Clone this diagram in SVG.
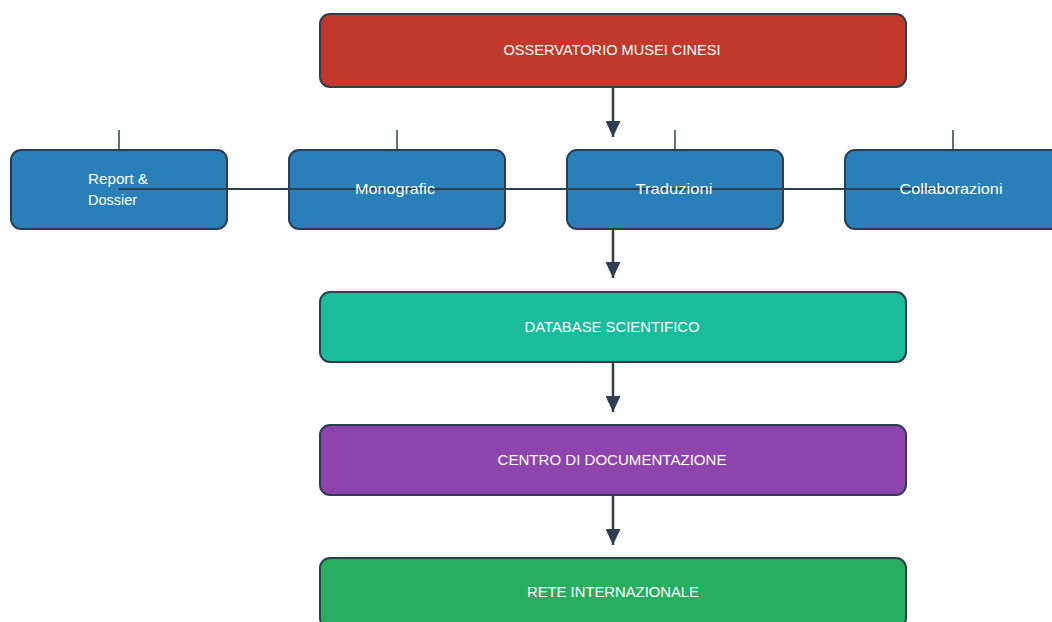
<svg xmlns="http://www.w3.org/2000/svg" width="1052" height="622" viewBox="0 0 1052 622">
<style>
.box{stroke:#2c3e50;stroke-width:2}
.lbl{font-family:"Liberation Sans",Arial,sans-serif;font-size:15px;fill:#ffffff;text-anchor:middle}
.lbl2{font-family:"Liberation Sans",Arial,sans-serif;font-size:15px;fill:#ffffff}
.conn{stroke:#2c3e50;stroke-width:2.5;fill:none}
.tick{stroke:#2c3e50;stroke-width:1.5;fill:none}
.hline{stroke:#2c3e50;stroke-width:2;fill:none}
</style>
<defs>
<marker id="ah" viewBox="0 0 16 15" refX="16" refY="7.5" markerWidth="16" markerHeight="15" markerUnits="userSpaceOnUse" orient="auto">
<path d="M0,0 L16,7.5 L0,15 Z" fill="#2c3e50"/>
</marker>
</defs>
<rect width="1052" height="622" fill="#ffffff"/>
<g id="n-osservatorio"><rect class="box" x="320" y="14" width="586" height="73" rx="10" fill="#c0392b"/></g>
<g id="n-report"><rect class="box" x="11" y="150" width="216" height="79" rx="10" fill="#2980b9"/></g>
<g id="n-monografic"><rect class="box" x="289" y="150" width="216" height="79" rx="10" fill="#2980b9"/></g>
<g id="n-traduzioni"><rect class="box" x="567" y="150" width="216" height="79" rx="10" fill="#2980b9"/></g>
<g id="n-collaborazioni"><rect class="box" x="845" y="150" width="216" height="79" rx="10" fill="#2980b9"/></g>
<g id="n-database"><rect class="box" x="320" y="292" width="586" height="70" rx="10" fill="#1abc9c"/></g>
<g id="n-centro"><rect class="box" x="320" y="425" width="586" height="70" rx="10" fill="#8e44ad"/></g>
<g id="n-rete"><rect class="box" x="320" y="558" width="586" height="70" rx="10" fill="#27ae60"/></g>
<g id="connectors">
<line class="conn" x1="613" y1="88" x2="613" y2="137" marker-end="url(#ah)"/>
<line class="conn" x1="613" y1="230" x2="613" y2="278" marker-end="url(#ah)"/>
<line class="conn" x1="613" y1="363" x2="613" y2="412" marker-end="url(#ah)"/>
<line class="conn" x1="613" y1="496" x2="613" y2="545" marker-end="url(#ah)"/>
<line class="tick" x1="119" y1="130" x2="119" y2="150"/>
<line class="tick" x1="397" y1="130" x2="397" y2="150"/>
<line class="tick" x1="675" y1="130" x2="675" y2="150"/>
<line class="tick" x1="953" y1="130" x2="953" y2="150"/>
<line class="hline" x1="119" y1="189" x2="952" y2="189"/>
</g>
<g id="labels">
<text class="lbl" x="612" y="55" textLength="217" lengthAdjust="spacingAndGlyphs">OSSERVATORIO MUSEI CINESI</text>
<text class="lbl2" x="88" y="184" textLength="60" lengthAdjust="spacingAndGlyphs">Report &amp;</text>
<text class="lbl2" x="88" y="205" textLength="49" lengthAdjust="spacingAndGlyphs">Dossier</text>
<text class="lbl" x="395" y="194" textLength="80" lengthAdjust="spacingAndGlyphs">Monografic</text>
<text class="lbl" x="674" y="194" textLength="77" lengthAdjust="spacingAndGlyphs">Traduzioni</text>
<text class="lbl" x="951" y="194" textLength="103" lengthAdjust="spacingAndGlyphs">Collaborazioni</text>
<text class="lbl" x="612" y="332" textLength="175" lengthAdjust="spacingAndGlyphs">DATABASE SCIENTIFICO</text>
<text class="lbl" x="612" y="465" textLength="229" lengthAdjust="spacingAndGlyphs">CENTRO DI DOCUMENTAZIONE</text>
<text class="lbl" x="613" y="597" textLength="172" lengthAdjust="spacingAndGlyphs">RETE INTERNAZIONALE</text>
</g>
</svg>
